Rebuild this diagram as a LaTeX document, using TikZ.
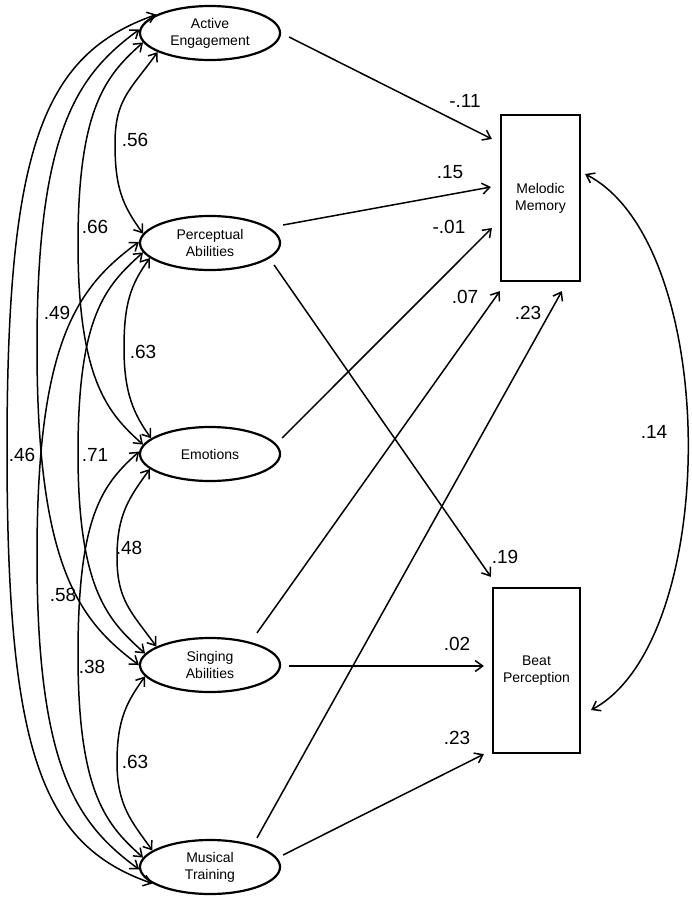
\documentclass[tikz,border=0pt]{standalone}
\usepackage{fontspec}
\setmainfont{Liberation Sans}
\usetikzlibrary{arrows.meta,shapes.geometric}
\begin{document}
\begin{tikzpicture}[x=1pt,y=-1pt,
  lat/.style={ellipse, draw, line width=2.2pt, minimum width=140pt, minimum height=54pt, inner sep=0pt, align=center, font=\fontsize{14}{17}\selectfont},
  obs/.style={rectangle, draw, line width=2.2pt, inner sep=0pt, align=center, font=\fontsize{14}{17}\selectfont},
  reg/.style={-{Straight Barb[length=7.5pt,width=11pt]}, line width=1.5pt},
  cov/.style={{Straight Barb[length=7.5pt,width=11pt]}-{Straight Barb[length=7.5pt,width=11pt]}, line width=1.5pt},
  coef/.style={inner sep=0pt, font=\fontsize{19}{21}\selectfont}
]
\useasboundingbox[fill=white] (0,0) rectangle (692,900);

% latent factors
\node[lat] (AE) at (210,33) {Active\\Engagement};
\node[lat] (PA) at (210,243) {Perceptual\\Abilities};
\node[lat] (EM) at (210,454) {Emotions};
\node[lat] (SA) at (210,665) {Singing\\Abilities};
\node[lat] (MT) at (210,867) {Musical\\Training};

% outcomes
\node[obs, minimum width=79pt, minimum height=166pt] (MM) at (540.5,198) {Melodic\\Memory};
\node[obs, minimum width=87pt, minimum height=165pt] (BP) at (536.5,670.5) {Beat\\Perception};

% regression paths
\draw[reg] ([shift={(8,4)}]AE.east) -- ([shift={(-8,-59)}]MM.west);
\draw[reg] ([shift={(2,-18)}]PA.east) -- ([shift={(-9,-11)}]MM.west);
\draw[reg] ([shift={(1,-16)}]EM.east) -- ([shift={(-8,30)}]MM.west);
\draw[reg] ([shift={(47,-4)}]SA.north) -- ([shift={(0,9)}]MM.south west);
\draw[reg] ([shift={(47,-1)}]MT.north) -- ([shift={(62,9)}]MM.south west);
\draw[reg] ([shift={(-7,22)}]PA.east) -- ([shift={(-1,-10)}]BP.north west);
\draw[reg] ([shift={(8,1)}]SA.east) -- ([shift={(-8,-4.5)}]BP.west);
\draw[reg] ([shift={(2,-12)}]MT.east) -- ([shift={(-8,0)}]BP.south west);

% covariance between outcomes
\draw[cov] ([shift={(4,-24)}]MM.east) .. controls +(136,70) and +(130,-70) .. ([shift={(10,39.5)}]BP.east);

% covariances among factors
\draw[cov] (AE.200) .. controls +(-28,38.6) and +(0,-44.5) .. (115,144) .. controls +(0,44.5) and +(-20,-27.6) .. (PA.172);
\draw[cov] (PA.194) .. controls +(-19.2,26.5) and +(0,-44.5) .. (124,348) .. controls +(0,44.5) and +(-17.6,-24.3) .. (EM.165);
\draw[cov] (EM.194) .. controls +(-20.8,28.7) and +(0,-43) .. (117,557.5) .. controls +(0,43) and +(-24.8,-34.2) .. (SA.161);
\draw[cov] (SA.190) .. controls +(-18.4,25.4) and +(0,-42.75) .. (117,762.5) .. controls +(0,42.75) and +(-20.8,-28.7) .. (MT.164);
\draw[cov] (AE.188) .. controls +(-35.4,31.9) and +(0,-138.3) .. (78,243.5) .. controls +(0,138.3) and +(-33.6,-30.2) .. (EM.172);
\draw[cov] (PA.188) .. controls +(-37.2,33.5) and +(0,-138) .. (78,453) .. controls +(0,138) and +(-36,-32.4) .. (SA.170);
\draw[cov] (EM.178) .. controls +(-36.6,32.9) and +(0,-139.7) .. (78,654.5) .. controls +(0,139.7) and +(-36,-32.4) .. (MT.172);
\draw[cov] (AE.177) .. controls +(-60.6,44.8) and +(0,-219.4) .. (37,347) .. controls +(0,219.4) and +(-60,-44.4) .. (SA.180);
\draw[cov] (PA.179) .. controls +(-61.2,45.3) and +(0,-216.7) .. (37,556) .. controls +(0,216.7) and +(-60,-44.4) .. (MT.182);
\draw[cov] (AE.161) .. controls +(-114,40) and +(0,-300.8) .. (7,449) .. controls +(0,300.8) and +(-112,-39) .. (MT.196);

% coefficients: covariances
\node[coef] (k1) at (135,140) {.56};
\node[coef] (k2) at (95,227) {.66};
\node[coef] (k3) at (57,313) {.49};
\node[coef] (k4) at (22,455) {.46};
\node[coef] (k5) at (143,352) {.63};
\node[coef] (k6) at (95,455) {.71};
\node[coef] (k7) at (129,548) {.48};
\node[coef] (k8) at (63,595) {.58};
\node[coef] (k9) at (92,667) {.38};
\node[coef] (k10) at (135,762) {.63};
\node[coef] (k11) at (654,432) {.14};

% coefficients: regressions
\node[coef] (r1) at (465,101) {-.11};
\node[coef] (r2) at (450,172) {.15};
\node[coef] (r3) at (449,227) {-.01};
\node[coef] (r4) at (465,297) {.07};
\node[coef] (r5) at (528,313) {.23};
\node[coef] (r6) at (505,557) {.19};
\node[coef] (r7) at (457,644) {.02};
\node[coef] (r8) at (457,738) {.23};
\end{tikzpicture}
\end{document}
